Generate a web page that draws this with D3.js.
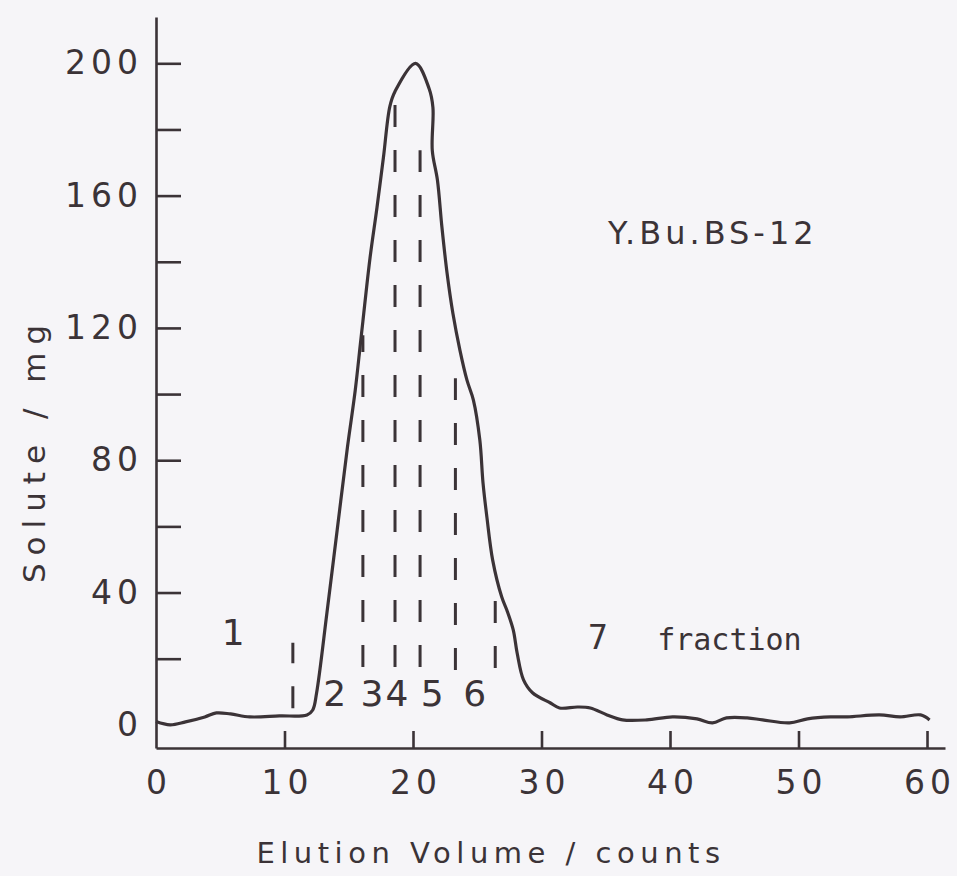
<!DOCTYPE html>
<html>
<head>
<meta charset="utf-8">
<script src="https://cdn.jsdelivr.net/npm/d3@7"></script>
<style>
  html, body { margin: 0; padding: 0; background: #f6f5f8; }
  svg { display: block; }
</style>
</head>
<body>
<svg id="chart"></svg>
<script>
// elution volume (counts) and solute (mg)
const elution = [0, 1.1, 2.3, 3.8, 4.7, 5.8, 7.3, 9.6, 11.75, 12.2, 12.5, 13.3, 14.1, 14.9, 15.5, 15.9,
  16.1, 16.65, 17.2, 17.7, 18.2, 18.6, 20.2, 21.25, 21.55, 21.5, 21.9, 22.25, 22.65, 23.1, 23.65, 24.2,
  24.7, 25.2, 25.45, 25.75, 26.2, 26.9, 27.3, 27.8, 28.1, 28.6, 29.3, 30.7, 31.4, 32.8, 33.8, 35.1,
  36.3, 38.2, 40.2, 42.1, 43.3, 44.4, 46.0, 47.2, 49.3, 50.7, 52.5, 53.8, 56.3, 57.9, 59.5, 60.2];
const solute = [1, 0, 0.9, 2.4, 3.6, 3.3, 2.4, 2.7, 3.0, 4.5, 9.7, 33.8, 58.9, 84, 101, 115,
  122, 141, 156.5, 171.6, 187, 191.5, 200, 192.4, 186.7, 173.7, 164.7, 150.5, 136.6, 124.5, 113.3, 104.2,
  98.2, 86.1, 73.1, 62.8, 49.8, 38.7, 34.7, 28.7, 21.8, 13.6, 9.7, 6.6, 5.1, 5.4, 5.1, 3.0,
  1.5, 1.5, 2.4, 1.8, 0.6, 2.1, 2.1, 1.5, 0.6, 1.8, 2.4, 2.4, 3.0, 2.4, 3.0, 1.5];

// fraction cut positions (dashed lines)
const cutAt = [10.65, 16.1, 18.6, 20.55, 23.3, 26.4];
const cutTop = [24.8, 117.8, 188, 173.7, 104.8, 38.7];
const cutBottom = [5, 17.5, 17.5, 17.5, 16.6, 17.2];

// fraction labels
const fractionNames = ["1", "2", "3", "4", "5", "6"];
const fractionX = [6.0, 13.9, 16.8, 18.75, 21.5, 24.8];
const fractionY = [28, 9.7, 9.7, 9.7, 9.7, 9.7];

const yTicks = [20, 40, 60, 80, 100, 120, 140, 160, 180, 200];
const yLabels = [0, 40, 80, 120, 160, 200];
const xTicks = [10, 20, 30, 40, 50, 60];
const xLabels = [0, 10, 20, 30, 40, 50, 60];

const ink = "#3b3337";
const roundFont = "'DejaVu Sans', sans-serif";
const monoFont = "'DejaVu Sans Mono', monospace";

const config = { width: 957, height: 876 };

const svg = d3.select("#chart")
  .attr("width", config.width)
  .attr("height", config.height);

svg.append("rect")
  .attr("width", config.width)
  .attr("height", config.height)
  .attr("fill", "#f6f5f8");

const x = d3.scaleLinear().domain([0, 61.4]).range([156, 945]);
const y = d3.scaleLinear().domain([-7, 214]).range([748, 17]);

// y axis: inward ticks every 20, labels every 40
svg.append("g")
  .attr("transform", `translate(${x(0)},0)`)
  .call(d3.axisLeft(y).tickValues(yTicks).tickSizeInner(-25).tickSizeOuter(0).tickFormat(""));

svg.append("g")
  .attr("class", "ylab")
  .attr("transform", `translate(${x(0)},0)`)
  .call(d3.axisLeft(y).tickValues(yLabels).tickSize(0).tickPadding(13))
  .call(g => g.select(".domain").remove());

// x axis: inward ticks, labels under the line
svg.append("g")
  .attr("transform", `translate(0,${y(-7)})`)
  .call(d3.axisBottom(x).tickValues(xTicks).tickSizeInner(-17).tickSizeOuter(0).tickFormat(""));

svg.append("g")
  .attr("class", "xlab")
  .attr("transform", `translate(0,${y(-7)})`)
  .call(d3.axisBottom(x).tickValues(xLabels).tickSize(0).tickPadding(23))
  .call(g => g.select(".domain").remove());

svg.selectAll(".domain, .tick line")
  .attr("stroke", ink)
  .attr("stroke-width", 2.6);

svg.selectAll(".tick text")
  .attr("fill", ink)
  .style("font-family", roundFont)
  .style("font-size", "33px")
  .style("letter-spacing", "5px");

svg.selectAll(".xlab .tick text").attr("dx", "2.5px");

// elution curve
const line = d3.line()
  .x((d, i) => x(elution[i]))
  .y(d => y(d))
  .curve(d3.curveCatmullRom.alpha(0.5));

svg.append("path")
  .datum(solute)
  .attr("d", line)
  .attr("fill", "none")
  .attr("stroke", ink)
  .attr("stroke-width", 3.2)
  .attr("stroke-linejoin", "round");

// fraction cuts, dashed from the bottom up
svg.selectAll(".cut")
  .data(cutAt)
  .enter()
  .append("line")
  .attr("class", "cut")
  .attr("x1", d => x(d))
  .attr("x2", d => x(d))
  .attr("y1", (d, i) => y(cutBottom[i]))
  .attr("y2", (d, i) => y(cutTop[i]))
  .attr("stroke", ink)
  .attr("stroke-width", 3)
  .attr("stroke-dasharray", "22,23");

// fraction numbers
svg.selectAll(".frac")
  .data(fractionNames)
  .enter()
  .append("text")
  .attr("class", "frac")
  .attr("x", (d, i) => x(fractionX[i]))
  .attr("y", (d, i) => y(fractionY[i]))
  .attr("dy", "0.36em")
  .attr("text-anchor", "middle")
  .attr("fill", ink)
  .style("font-family", roundFont)
  .style("font-size", "36px")
  .text(d => d);

svg.append("text")
  .attr("x", x(34.4))
  .attr("y", y(26.6))
  .attr("dy", "0.36em")
  .attr("text-anchor", "middle")
  .attr("fill", ink)
  .style("font-family", monoFont)
  .style("font-size", "33px")
  .text("7");

svg.append("text")
  .attr("x", x(39))
  .attr("y", y(22.7))
  .attr("fill", ink)
  .style("font-family", monoFont)
  .style("font-size", "30px")
  .text("fraction");

// sample name
svg.append("text")
  .attr("x", 608)
  .attr("y", 244)
  .attr("fill", ink)
  .style("font-family", roundFont)
  .style("font-size", "32px")
  .style("letter-spacing", "4px")
  .text("Y.Bu.BS-12");

// axis titles
svg.append("text")
  .attr("x", 491)
  .attr("y", 863)
  .attr("text-anchor", "middle")
  .attr("fill", ink)
  .style("font-family", roundFont)
  .style("font-size", "29px")
  .style("letter-spacing", "5.5px")
  .text("Elution Volume / counts");

svg.append("text")
  .attr("transform", "translate(45,450) rotate(-90)")
  .attr("text-anchor", "middle")
  .attr("fill", ink)
  .style("font-family", roundFont)
  .style("font-size", "31px")
  .style("letter-spacing", "8px")
  .text("Solute / mg");
</script>
</body>
</html>
